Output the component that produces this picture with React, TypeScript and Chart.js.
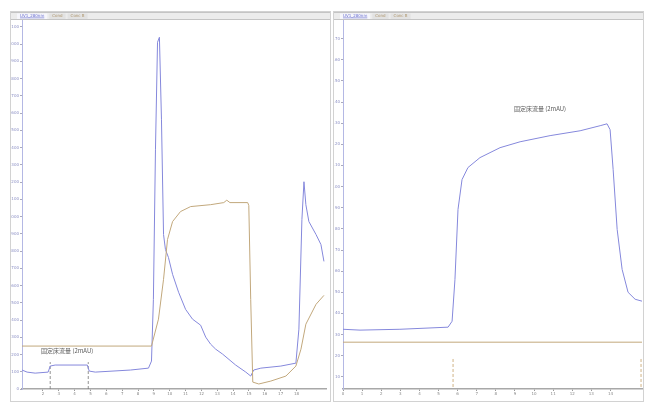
import { useEffect, useRef } from 'react';
import { Chart, registerables } from 'chart.js';
Chart.register(...registerables);

// ---- Left panel data (time, signal) ----
const leftUvX = [0.68, 1.0, 1.51, 2.33, 2.46, 2.77, 4.8, 4.92, 5.3, 7.52, 8.66, 8.85, 8.97, 9.1, 9.23, 9.35, 9.48, 9.61, 9.73, 9.92, 10.18, 10.56, 11.0, 11.44, 11.95, 12.27, 12.58, 12.9, 13.34, 14.16, 14.8, 15.11, 15.3, 15.75, 17.01, 17.96, 18.15, 18.34, 18.47, 18.59, 18.78, 19.23, 19.54, 19.73];
const leftUvY = [110, 98, 92, 98, 133, 139, 139, 104, 98, 110, 121, 162, 520, 1387, 2011, 2040, 1561, 896, 809, 763, 665, 561, 462, 405, 370, 301, 260, 231, 202, 139, 98, 75, 110, 121, 133, 150, 347, 983, 1202, 1069, 971, 896, 838, 740];

const leftCondX = [0.68, 8.85, 9.29, 9.61, 9.86, 10.18, 10.68, 11.32, 12.58, 13.41, 13.6, 13.8, 14.92, 14.99, 15.11, 15.24, 15.62, 16.38, 17.33, 17.96, 18.28, 18.59, 19.23, 19.73];
const leftCondY = [249, 249, 405, 636, 867, 971, 1029, 1058, 1069, 1081, 1095, 1081, 1081, 1064, 520, 40, 29, 46, 75, 133, 231, 376, 491, 543];

const leftMarkX = [2.46, 4.86];
const leftMarkTop = 156;

// ---- Right panel data ----
const rightUvX = [0, 0.89, 2.98, 5.5, 5.71, 5.86, 6.02, 6.23, 6.54, 7.17, 8.22, 9.27, 10.84, 12.41, 13.46, 13.82, 13.98, 14.14, 14.35, 14.61, 14.92, 15.29, 15.65];
const rightUvY = [32.5, 32.1, 32.5, 33.5, 36.3, 56.1, 89.2, 103.3, 109, 113.7, 118.4, 121.2, 124.1, 126.4, 128.8, 129.7, 126.9, 108, 79.7, 60.8, 50, 46.7, 45.8];

const rightCondX = [0, 15.65];
const rightCondY = [26.4, 26.4];

const rightMarkX = [5.76, 15.6];
const rightMarkRange = [5.2, 19.3];

const tabLabels = ['UV1_280nm', 'Cond', 'Conc B'];
const annotation = '固定床流量 (2mAU)';
const leftLabelPos = [3.53, 220];
const rightLabelPos = [10.31, 137];

const BLUE = '#8588dc';
const TAN = '#c2a87c';

const pts = (xs: number[], ys: number[]) => xs.map((x, i) => ({ x, y: ys[i] }));

const onStep = (step: number) => (scale: any) => {
  scale.ticks = scale.ticks.filter((t: any) => Math.abs(t.value / step - Math.round(t.value / step)) < 1e-6);
};

const decorPlugin = (labelPos: number[]) => ({
  id: 'decor',
  beforeDraw(chart: any) {
    const ctx = chart.ctx;
    const w = chart.width;
    ctx.save();
    ctx.fillStyle = '#ececec';
    ctx.fillRect(0, 0, w, 8);
    ctx.strokeStyle = '#c4c4c4';
    ctx.lineWidth = 1;
    ctx.beginPath();
    ctx.moveTo(0, 0.5); ctx.lineTo(w, 0.5);
    ctx.moveTo(0, 7.5); ctx.lineTo(w, 7.5);
    ctx.stroke();
    ctx.font = '4px "DejaVu Sans"';
    ctx.textBaseline = 'middle';
    let x = 6;
    tabLabels.forEach((t, i) => {
      const tw = ctx.measureText(t).width + 6;
      ctx.fillStyle = i === 0 ? '#f6f6fb' : '#e2e2e2';
      ctx.fillRect(x, 1.5, tw, 5.5);
      ctx.fillStyle = i === 0 ? '#6a6fcf' : '#b09870';
      ctx.fillText(t, x + 3, 4.3);
      if (i === 0) { ctx.fillRect(x + 3, 5.6, tw - 6, 0.6); }
      x += tw + 2;
    });
    ctx.restore();
  },
  afterDatasetsDraw(chart: any) {
    const ctx = chart.ctx;
    const px = chart.scales.x.getPixelForValue(labelPos[0]);
    const py = chart.scales.y.getPixelForValue(labelPos[1]);
    ctx.save();
    ctx.font = '6px "Noto Sans CJK SC"';
    ctx.fillStyle = '#5a5a5a';
    ctx.textAlign = 'center';
    ctx.textBaseline = 'middle';
    ctx.fillText(annotation, px, py);
    ctx.restore();
  },
});

function makeConfig(opts: any): any {
  const { datasets, xMin, xMax, yMin, yMax, xStep, yStep, yWidth, padRight, labelPos } = opts;
  return {
    type: 'line',
    data: { datasets },
    plugins: [decorPlugin(labelPos)],
    options: {
      animation: false,
      responsive: false,
      events: [],
      layout: { padding: { top: 8, right: padRight, left: 0, bottom: 0 } },
      plugins: { legend: { display: false }, tooltip: { enabled: false } },
      elements: { point: { radius: 0 }, line: { tension: 0 } },
      scales: {
        x: {
          type: 'linear', min: xMin, max: xMax,
          afterFit: (s: any) => { s.height = 12; },
          afterBuildTicks: onStep(xStep),
          ticks: { stepSize: xStep, autoSkip: false, maxRotation: 0, padding: 1, color: '#888', font: { size: 4, family: 'DejaVu Sans' } },
          grid: { drawOnChartArea: false, drawTicks: true, tickLength: 2, color: '#999' },
          border: { display: true, color: '#a8a8a8', width: 1.5 },
        },
        y: {
          type: 'linear', min: yMin, max: yMax,
          afterFit: (s: any) => { s.width = yWidth; },
          afterBuildTicks: onStep(yStep),
          ticks: { stepSize: yStep, autoSkip: false, padding: 1, color: '#8a8ec4', font: { size: 4, family: 'DejaVu Sans' } },
          grid: { drawOnChartArea: false, drawTicks: true, tickLength: 2, color: '#aab' },
          border: { display: true, color: '#b4b8e4', width: 1 },
        },
      },
    },
  };
}

function Panel(props: { left: number; width: number; config: any }) {
  const ref = useRef<HTMLCanvasElement>(null);
  useEffect(() => {
    const chart = new Chart(ref.current as HTMLCanvasElement, props.config);
    return () => chart.destroy();
  }, []);
  return (
    <div style={{ position: 'absolute', left: props.left, top: 11, width: props.width, height: 391, border: '1px solid #d2d2d2', boxSizing: 'border-box', background: '#fff' }}>
      <canvas ref={ref} width={props.width - 2} height={389} style={{ display: 'block' }} />
    </div>
  );
}

const lineDs = (data: any[], color: string, dash: number[] = [], width = 1) => ({
  data, borderColor: color, borderWidth: width, borderDash: dash, pointRadius: 0, fill: false,
});

export default function App() {
  const leftConfig = makeConfig({
    datasets: [
      lineDs(pts(leftCondX, leftCondY), TAN),
      lineDs(pts(leftUvX, leftUvY), BLUE),
      ...leftMarkX.map((x) => lineDs([{ x, y: 0 }, { x, y: leftMarkTop }], '#777', [3, 2], 0.8)),
    ],
    xMin: 0.68, xMax: 19.86, yMin: 0, yMax: 2140, xStep: 1, yStep: 100, yWidth: 11, padRight: 4,
    labelPos: leftLabelPos,
  });
  const rightConfig = makeConfig({
    datasets: [
      lineDs(pts(rightCondX, rightCondY), TAN),
      lineDs(pts(rightUvX, rightUvY), BLUE),
      ...rightMarkX.map((x) => lineDs([{ x, y: rightMarkRange[0] }, { x, y: rightMarkRange[1] }], '#c4a066', [3, 2], 0.8)),
    ],
    xMin: 0, xMax: 15.65, yMin: 4.25, yMax: 178.8, xStep: 1, yStep: 10, yWidth: 9, padRight: 1,
    labelPos: rightLabelPos,
  });
  return (
    <div>
      <Panel left={10} width={321} config={leftConfig} />
      <Panel left={333} width={311} config={rightConfig} />
    </div>
  );
}
